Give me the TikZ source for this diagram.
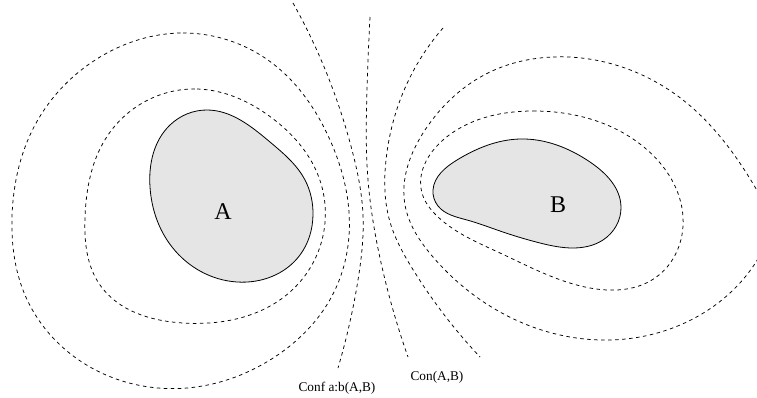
\documentclass[tikz,border=0pt]{standalone}
\usepackage{fontspec}
\setmainfont{Liberation Serif}
\usetikzlibrary{hobby}
\begin{document}
\begin{tikzpicture}[x=1pt,y=-1pt,
  contour/.style={dash pattern=on 3.5pt off 3.5pt, line width=0.75pt},
  blob/.style={draw=black, line width=0.8pt, fill=blobgray},
  small/.style={font=\fontsize{13.3}{16}\selectfont, inner sep=0pt},
  big/.style={font=\fontsize{24}{28}\selectfont, inner sep=0pt}]
\definecolor{blobgray}{RGB}{229,229,229}
\useasboundingbox (0,0) rectangle (757,398);
\begin{scope}
\clip (0,0) rectangle (757,398);
% outer loop around A
\draw[contour, use Hobby shortcut, closed=true]
 (183,33) .. (272,63) .. (330,140) .. (349,212) .. (335,290) .. (270,360) .. (187,388) .. (90,367) .. (25,295) .. (12,217) .. (35,125) .. (100,57);
% inner loop around A
\draw[contour, use Hobby shortcut, closed=true]
 (197,89) .. (272,118) .. (318,175) .. (322,240) .. (290,292) .. (183,323) .. (100,285) .. (85,217) .. (108,135);
% outer loop around B
\draw[contour, use Hobby shortcut, closed=true]
 (553,57) .. (683,100) .. (752,182) .. (768,225) .. (752,268) .. (667,330) .. (610,340) .. (500,312) .. (433,257) .. (405,205) .. (425,130) .. (490,72);
% inner loop around B
\draw[contour, use Hobby shortcut, closed=true]
 (533,111) .. (645,148) .. (683,217) .. (655,278) .. (590,288) .. (500,253) .. (437,216) .. (422,193) .. (443,140);
% open level lines
\draw[contour, use Hobby shortcut]
 (293,3) .. (322,62) .. (352,150) .. (363,215) .. (358,280) .. (338,368);
\draw[contour, use Hobby shortcut]
 (370,17) .. (367,90) .. (368,180) .. (380,258) .. (408,357);
\draw[contour, use Hobby shortcut]
 (443,28) .. (405,88) .. (386,160) .. (390,222) .. (412,268) .. (480,357);
\end{scope}
% blob A
\draw[blob, use Hobby shortcut, closed=true]
 (207,110) .. (270,142) .. (305,180) .. (313,215) .. (300,255) .. (237,282) .. (172,247) .. (150,187) .. (170,125);
% blob B
\draw[blob, use Hobby shortcut, closed=true]
 (520,139) .. (590,162) .. (621,207) .. (603,240) .. (573,248) .. (540,243) .. (500,231) .. (467,220) .. (438,206) .. (433,190) .. (457,160);
\node[big] (labA) at (223,212) {A};
\node[big] (labB) at (558,205) {B};
\node[small] (conf) at (337,388) {Conf a:b(A,B)};
\node[small] (con) at (437,377) {Con(A,B)};
\end{tikzpicture}
\end{document}
